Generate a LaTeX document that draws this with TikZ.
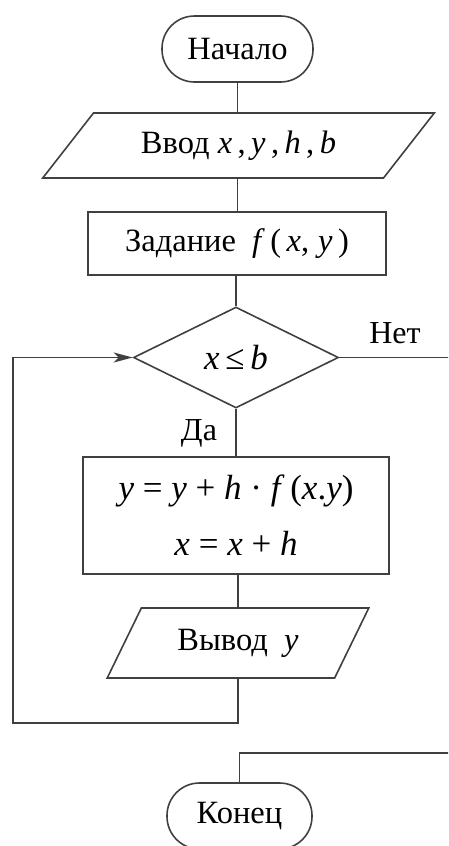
\documentclass[tikz,border=0pt]{standalone}
\usepackage{fontspec}
\setmainfont{Liberation Serif}
\usetikzlibrary{shapes.geometric,arrows.meta}
\newcommand\myit[1]{\textit{#1}}
\begin{document}
\begin{tikzpicture}[x=1pt,y=-1pt,
  every node/.style={font=\fontsize{32.5}{39}\selectfont, inner sep=0pt},
  box/.style={draw=black!75, line width=1.6pt},
  term/.style={box, rectangle, rounded corners=32.5pt},
  io/.style={box, trapezium, trapezium stretches=true},
  proc/.style={box, rectangle, align=center},
  cond/.style={box, diamond, minimum width=205pt, minimum height=101pt},
  conn/.style={draw=black!75, line width=1.6pt},
  big/.style={font=\fontsize{35}{42}\selectfont},
  lbl/.style={font=\fontsize{32}{38}\selectfont}]
\useasboundingbox (0,0) rectangle (448,846);
\clip (0,0) rectangle (448,846);

\node[term, minimum width=151pt, minimum height=66pt] (start) at (237.5,49) {Начало};
\node[io, minimum width=393pt, minimum height=65pt, trapezium left angle=40.9, trapezium right angle=139.1] (inp) at (238.5,145.5) {Ввод \myit{x}\,,\,\myit{y}\,,\,\myit{h}\,,\,\myit{b}};
\node[proc, minimum width=298pt, minimum height=63pt] (setf) at (237,243.5) {Задание~ \myit{f}\,(\,\myit{x},\;\myit{y}\,)};
\node[cond, big] (dec) at (236,357.5) {\myit{x}\,≤\,\myit{b}};
\node[proc, big, minimum width=306pt, minimum height=117pt] (calc) at (236,515.5) {\myit{y} = \myit{y} + \myit{h} · \myit{f}\,(\myit{x}.\myit{y})\\[14pt] \myit{x} = \myit{x} + \myit{h}};
\node[io, minimum width=262pt, minimum height=70pt, trapezium left angle=52.9, trapezium right angle=127.1] (out) at (238,643) {Вывод~ \myit{y}};
\node[term, minimum width=145pt, minimum height=66pt] (end) at (239.5,816) {Конец};

\node[lbl] (no) at (395,333) {Нет};
\node[lbl] (yes) at (199,433) {Да};

\coordinate (lb) at (13,723);
\coordinate (rt) at (470,753);

\draw[conn] (start.south) -- (start.south |- inp.north);
\draw[conn] (inp.south -| start.south) -- (setf.north -| start.south);
\draw[conn] (setf.south -| dec.north) -- (dec.north);
\draw[conn] (dec.south) -- (dec.south |- calc.north);
\draw[conn] (calc.south -| out.north) -- (out.north);
\draw[conn, -{Stealth[length=19pt,width=10pt,inset=5pt]}] (out.south) |- (lb) |- (dec.west);
\draw[conn] (dec.east) -| (rt) -| (end.north);
\end{tikzpicture}
\end{document}
